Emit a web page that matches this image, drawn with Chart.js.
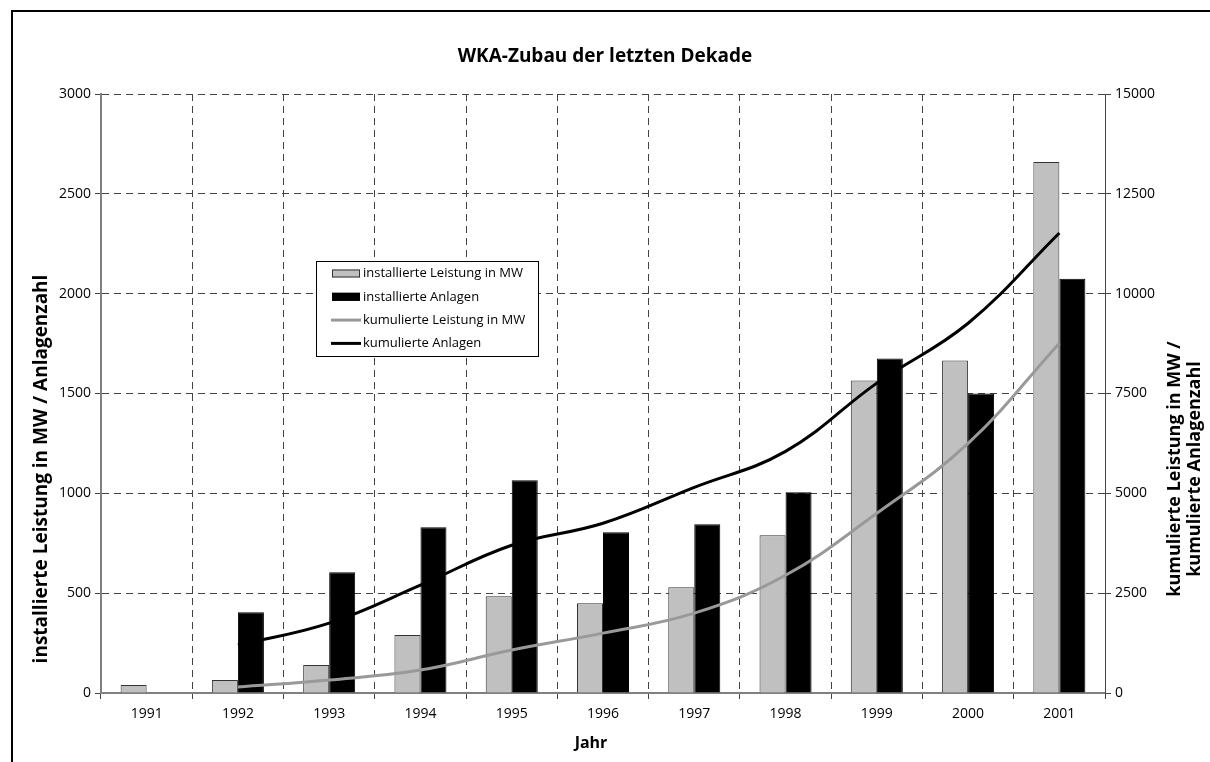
<!DOCTYPE html>
<html>
<head>
<meta charset="utf-8">
<title>WKA-Zubau der letzten Dekade</title>
<script src="https://cdn.jsdelivr.net/npm/chart.js@4.4.1/dist/chart.umd.min.js"></script>
<style>
  html, body { margin: 0; padding: 0; background: #fff; }
  #wrap { width: 1210px; height: 762px; position: relative; }
</style>
</head>
<body>
<div id="wrap"><canvas id="wkachart"></canvas></div>
<script>
// Werte
const years = ["1991", "1992", "1993", "1994", "1995", "1996", "1997", "1998", "1999", "2000", "2001"];
const installedMW = [40, 65, 140, 290, 485, 450, 530, 790, 1565, 1665, 2660];
const installedUnits = [null, 405, 605, 830, 1065, 805, 845, 1005, 1675, 1500, 2075];
const cumulatedMW = [null, 150, 325, 575, 1075, 1500, 2000, 2950, 4500, 6250, 8760];
const cumulatedUnits = [null, 1200, 1750, 2700, 3700, 4250, 5150, 6050, 7760, 9260, 11520];

const leftTicks = [0, 500, 1000, 1500, 2000, 2500, 3000];
const rightTicks = [0, 2500, 5000, 7500, 10000, 12500, 15000];

const FONT = '"Open Sans", "Noto Sans", "DejaVu Sans", sans-serif';

const legendItems = [
    { text: "installierte Leistung in MW", type: "box", fill: "#c0c0c0", stroke: "#333" },
    { text: "installierte Anlagen", type: "box", fill: "#000", stroke: "#000" },
    { text: "kumulierte Leistung in MW", type: "line", stroke: "#999" },
    { text: "kumulierte Anlagen", type: "line", stroke: "#000" },
];

// Rahmen, Titel, Achsentitel und Legende
const textsPlugin = {
    id: "texts",
    afterDraw(chart) {
        const ctx = chart.ctx;
        ctx.save();

        ctx.strokeStyle = "#000";
        ctx.lineWidth = 2;
        ctx.beginPath();
        ctx.moveTo(12, 762);
        ctx.lineTo(12, 11);
        ctx.lineTo(1210, 11);
        ctx.stroke();

        ctx.fillStyle = "#000";
        ctx.textAlign = "center";
        ctx.textBaseline = "middle";
        ctx.font = "bold 19px " + FONT;
        ctx.fillText("WKA-Zubau der letzten Dekade", 605, 57);

        ctx.font = "bold 16px " + FONT;
        ctx.fillText("Jahr", 591, 743);

        ctx.font = "bold 19px " + FONT;
        ctx.save();
        ctx.translate(42, 469);
        ctx.rotate(-Math.PI / 2);
        ctx.fillText("installierte Leistung in MW / Anlagenzahl", 0, 0);
        ctx.restore();

        ctx.font = "bold 18px " + FONT;
        ctx.save();
        ctx.translate(1185, 469);
        ctx.rotate(-Math.PI / 2);
        ctx.fillText("kumulierte Leistung in MW /", 0, -10);
        ctx.fillText("kumulierte Anlagenzahl", 0, 10);
        ctx.restore();

        // Legende
        const lx = 316, ly = 261, lw = 222, lh = 95;
        ctx.fillStyle = "#fff";
        ctx.fillRect(lx, ly, lw, lh);
        ctx.strokeStyle = "#000";
        ctx.lineWidth = 1;
        ctx.strokeRect(lx + 0.5, ly + 0.5, lw, lh);

        ctx.font = "13px " + FONT;
        ctx.textAlign = "left";
        legendItems.forEach((item, i) => {
            const y = ly + 12.5 + i * 23.3;
            if (item.type === "box") {
                ctx.fillStyle = item.fill;
                ctx.fillRect(332, y - 4, 28, 8);
                ctx.strokeStyle = item.stroke;
                ctx.strokeRect(332.5, y - 3.5, 27, 7);
            } else {
                ctx.strokeStyle = item.stroke;
                ctx.lineWidth = 3;
                ctx.beginPath();
                ctx.moveTo(331, y);
                ctx.lineTo(361, y);
                ctx.stroke();
                ctx.lineWidth = 1;
            }
            ctx.fillStyle = "#000";
            ctx.fillText(item.text, 363, y);
        });

        ctx.restore();
    },
};

const plainNumber = (value) => String(value);

const ctx = document.getElementById("wkachart").getContext("2d");

const chart = new Chart(ctx, {
    type: "bar",
    data: {
        labels: years,
        datasets: [
            {
                type: "line",
                label: "kumulierte Leistung in MW",
                data: cumulatedMW,
                yAxisID: "yRight",
                borderColor: "#999",
                borderWidth: 3,
                pointRadius: 0,
                tension: 0.4,
                fill: false,
                order: 0,
            },
            {
                type: "line",
                label: "kumulierte Anlagen",
                data: cumulatedUnits,
                yAxisID: "yRight",
                borderColor: "#000",
                borderWidth: 3,
                pointRadius: 0,
                tension: 0.4,
                fill: false,
                order: 0,
            },
            {
                label: "installierte Leistung in MW",
                data: installedMW,
                yAxisID: "yLeft",
                backgroundColor: "#c0c0c0",
                borderColor: "#333",
                borderWidth: 1,
                categoryPercentage: 0.57,
                barPercentage: 1.0,
                order: 1,
            },
            {
                label: "installierte Anlagen",
                data: installedUnits,
                yAxisID: "yLeft",
                backgroundColor: "#000",
                borderColor: "#000",
                borderWidth: 1,
                categoryPercentage: 0.57,
                barPercentage: 1.0,
                order: 1,
            },
        ],
    },
    options: {
        responsive: true,
        maintainAspectRatio: false,
        animation: false,
        layout: { padding: { top: 94, left: 0, right: 0, bottom: 0 } },
        plugins: {
            legend: { display: false },
            title: { display: false },
            tooltip: { enabled: false },
        },
        scales: {
            x: {
                offset: true,
                grid: {
                    offset: true,
                    color: "#444",
                    lineWidth: 1,
                    tickLength: 6,
                    tickColor: "#444",
                    tickBorderDash: [],
                },
                border: { display: true, color: "#808080", width: 2, dash: [7, 5] },
                ticks: {
                    color: "#000",
                    font: { family: FONT, size: 14 },
                    padding: 7,
                    maxRotation: 0,
                },
                afterFit(scale) {
                    scale.height = 69;
                },
            },
            yLeft: {
                position: "left",
                min: 0,
                max: 3000,
                grid: {
                    color: "#444",
                    lineWidth: 1,
                    tickLength: 6,
                    tickColor: "#444",
                    tickBorderDash: [],
                },
                border: { display: true, color: "#808080", width: 2, dash: [7, 5] },
                afterBuildTicks(scale) {
                    scale.ticks = leftTicks.map((v) => ({ value: v }));
                },
                ticks: {
                    color: "#000",
                    font: { family: FONT, size: 14 },
                    padding: 4,
                    callback: plainNumber,
                },
                afterFit(scale) {
                    scale.width = 101;
                },
            },
            yRight: {
                position: "right",
                min: 0,
                max: 15000,
                grid: {
                    drawOnChartArea: false,
                    tickLength: 6,
                    tickColor: "#444",
                },
                border: { display: true, color: "#444", width: 1 },
                afterBuildTicks(scale) {
                    scale.ticks = rightTicks.map((v) => ({ value: v }));
                },
                ticks: {
                    color: "#000",
                    font: { family: FONT, size: 14 },
                    padding: 4,
                    callback: plainNumber,
                },
                afterFit(scale) {
                    scale.width = 105;
                },
            },
        },
    },
    plugins: [textsPlugin],
});
</script>
</body>
</html>
